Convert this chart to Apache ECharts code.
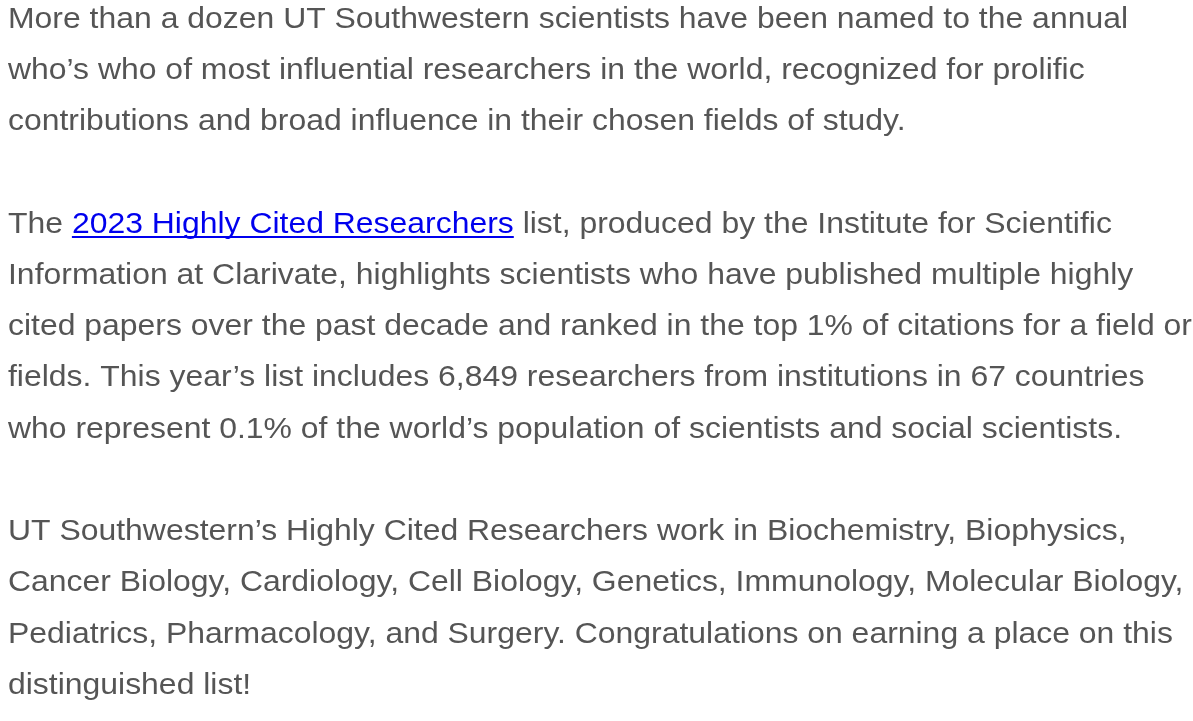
<!DOCTYPE html>
<html>
<head>
<meta charset="utf-8">
<script src="https://cdn.jsdelivr.net/npm/echarts@6/dist/echarts.min.js"></script>
<style>
  html, body { margin: 0; padding: 0; background: #fff; }
  #main { width: 1193px; height: 721px; }
</style>
</head>
<body>
<div id="main"></div>
<script>
// text content, one entry per printed line
const introLines = [
  'More than a dozen UT Southwestern scientists have been named to the annual',
  'who\u2019s who of most influential researchers in the world, recognized for prolific',
  'contributions and broad influence in their chosen fields of study.'
];
const linkBefore = 'The ';
const linkText = '2023 Highly Cited Researchers';
const linkAfter = ' list, produced by the Institute for Scientific';
const listLines = [
  'Information at Clarivate, highlights scientists who have published multiple highly',
  'cited papers over the past decade and ranked in the top 1% of citations for a field or',
  'fields. This year\u2019s list includes 6,849 researchers from institutions in 67 countries',
  'who represent 0.1% of the world\u2019s population of scientists and social scientists.'
];
const fieldLines = [
  'UT Southwestern\u2019s Highly Cited Researchers work in Biochemistry, Biophysics,',
  'Cancer Biology, Cardiology, Cell Biology, Genetics, Immunology, Molecular Biology,',
  'Pediatrics, Pharmacology, and Surgery. Congratulations on earning a place on this',
  'distinguished list!'
];

const FONT = '29.5px "Liberation Sans", Arial, sans-serif';
const textColor = '#555555';
const linkColor = '#0000ee';
const left = 8;
const firstMid = 19.5;
const lineStep = 51.25;

const ctx = document.createElement('canvas').getContext('2d');
ctx.font = FONT;
// the reference glyphs run a bit wider than Liberation Sans, stretch to fit
const sx = 1120 / ctx.measureText(introLines[0]).width;
const measure = s => ctx.measureText(s).width * sx;

// rows: null = blank line between paragraphs
const rows = [].concat(introLines, [null], ['__link__'], listLines, [null], fieldLines);

function txt(s, x, y, color) {
  return { type: 'text', x: x, y: y, scaleX: sx,
    style: { text: s, font: FONT, fill: color, verticalAlign: 'middle' } };
}

const elements = [];
rows.forEach((row, i) => {
  const y = firstMid + i * lineStep;
  if (row === null) return;
  if (row === '__link__') {
    const x1 = left + measure(linkBefore);
    const x2 = x1 + measure(linkText);
    elements.push(txt(linkBefore, left, y, textColor));
    elements.push(txt(linkText, x1, y, linkColor));
    elements.push(txt(linkAfter, x2, y, textColor));
    elements.push({ type: 'line', shape: { x1: x1, y1: y + 12.5, x2: x2, y2: y + 12.5 },
      style: { stroke: linkColor, lineWidth: 2 } });
    return;
  }
  elements.push(txt(row, left, y, textColor));
});

const chart = echarts.init(document.getElementById('main'));
chart.setOption({
  backgroundColor: '#fff',
  animation: false,
  graphic: { elements: elements }
});
</script>
</body>
</html>
